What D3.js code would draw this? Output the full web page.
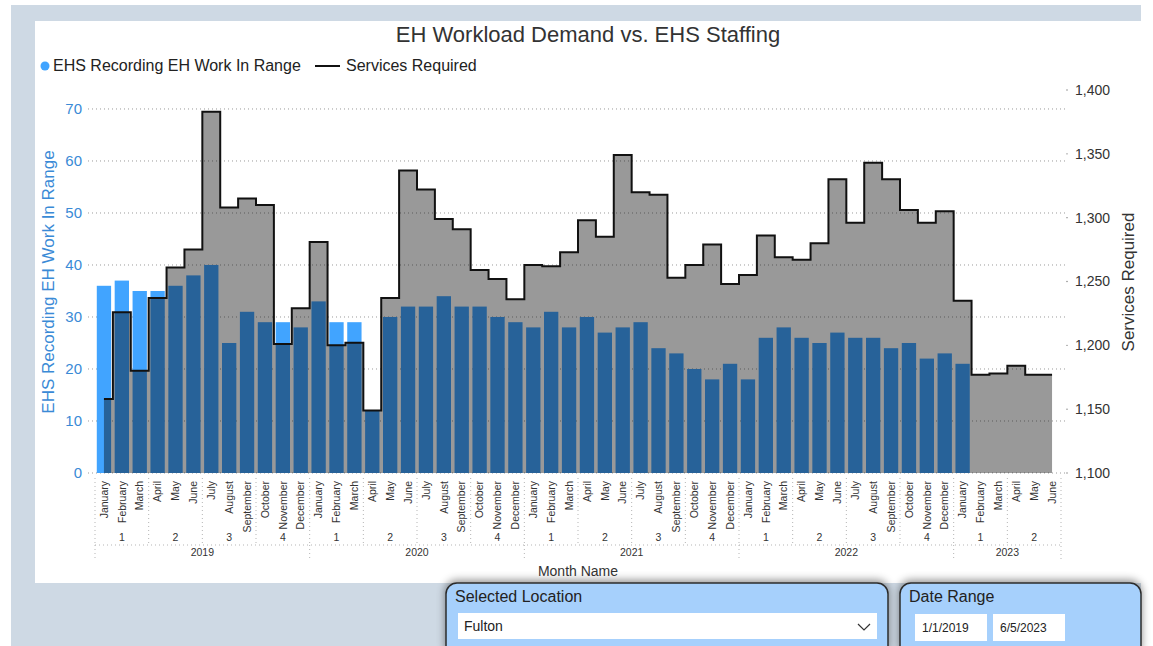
<!DOCTYPE html>
<html lang="en">
	<head>
		<meta charset="utf-8">
		<title>EH Workload Demand vs. EHS Staffing</title>
		<script type="text/javascript" src="https://cdn.jsdelivr.net/npm/d3@7/dist/d3.min.js"></script>
		<style type="text/css">
			body { margin: 0; background: #fff; }
			text { font-family: "Liberation Sans", Arial, sans-serif; }
		</style>
	</head>

	<body>
		<script type="text/javascript">
			/* tick labels for the x axis */
			var monthNames = ["January", "February", "March", "April", "May", "June",
							  "July", "August", "September", "October", "November", "December"];
			var years = [2019, 2020, 2021, 2022, 2023];
			var quarterLabels = ["1", "2", "3", "4"];

			/* EHS recording EH work in range (left axis), Jan 2019 .. Jun 2023 */
			var staffing = [36, 37, 35, 35, 36, 38, 40, 25, 31, 29, 29, 28,
							33, 29, 29, 12, 30, 32, 32, 34, 32, 32, 30, 29,
							28, 31, 28, 30, 27, 28, 29, 24, 23, 20, 18, 21,
							18, 26, 28, 26, 25, 27, 26, 26, 24, 25, 22, 23,
							21, null, null, null, null, null];

			/* services required (right axis) */
			var services = [1158, 1226, 1180, 1237, 1261, 1275, 1383, 1308, 1315, 1310, 1201, 1229,
							1281, 1200, 1202, 1149, 1237, 1337, 1322, 1299, 1291, 1259, 1252, 1236,
							1263, 1262, 1273, 1298, 1285, 1349, 1320, 1318, 1253, 1263, 1279, 1248,
							1255, 1286, 1269, 1267, 1280, 1330, 1296, 1343, 1330, 1306, 1296, 1305,
							1235, 1177, 1178, 1184, 1177, 1177];

			var leftTicks = [0, 10, 20, 30, 40, 50, 60, 70];
			var rightTicks = [1100, 1150, 1200, 1250, 1300, 1350, 1400];

			/* build month categories: Jan 2019 .. Jun 2023 */
			var months = [];
			years.forEach(function(yr) {
				monthNames.forEach(function(m, mi) {
					if (yr < 2023 || mi < 6) {
						months.push({ year: yr, month: m, quarter: Math.floor(mi / 3) + 1, index: months.length });
					}
				});
			});

			var W = 1153, H = 646;
			var plotTop = 90, plotBottom = 473, plotLeft = 95, plotRight = 1061;
			var blue = "#41A4FF", axisBlue = "#3A8AD6", textGray = "#333";

			var svg = d3.select("body")
				.append("svg")
				.attr("width", W)
				.attr("height", H);

			var defs = svg.append("defs");
			var shadow = defs.append("filter").attr("id", "shadow")
				.attr("x", "-10%").attr("y", "-40%").attr("width", "120%").attr("height", "180%");
			shadow.append("feDropShadow")
				.attr("dx", 0).attr("dy", -2).attr("stdDeviation", 4)
				.attr("flood-color", "#000").attr("flood-opacity", 0.45);

			/* page background and card */
			svg.append("rect").attr("x", 11).attr("y", 5).attr("width", 1130).attr("height", H - 5)
				.attr("fill", "#CED9E4");
			svg.append("rect").attr("x", 35).attr("y", 21).attr("width", 1106).attr("height", 562)
				.attr("fill", "#fff");

			/* scales */
			var x = d3.scaleBand()
				.domain(months.map(function(d) { return d.index; }))
				.range([plotLeft, plotRight])
				.paddingInner(0.2)
				.paddingOuter(0.1);
			var step = x.step();
			var yL = d3.scaleLinear().domain([0, 73.65]).range([plotBottom, plotTop]);
			var yR = d3.scaleLinear().domain([1100, 1400]).range([plotBottom, plotTop]);

			/* title */
			svg.append("text")
				.attr("x", 588).attr("y", 42)
				.attr("text-anchor", "middle")
				.attr("font-size", "22px")
				.attr("fill", textGray)
				.text("EH Workload Demand vs. EHS Staffing");

			/* legend */
			svg.append("circle").attr("cx", 45).attr("cy", 66).attr("r", 4.5).attr("fill", blue);
			svg.append("text").attr("x", 53).attr("y", 71).attr("font-size", "16px").attr("fill", "#222")
				.text("EHS Recording EH Work In Range");
			svg.append("line").attr("x1", 315).attr("x2", 340).attr("y1", 66).attr("y2", 66)
				.attr("stroke", "#111").attr("stroke-width", 2);
			svg.append("text").attr("x", 346).attr("y", 71).attr("font-size", "16px").attr("fill", "#222")
				.text("Services Required");

			/* gridlines (left axis) */
			svg.append("g")
				.selectAll("line")
				.data(leftTicks)
				.enter()
				.append("line")
				.attr("x1", 88).attr("x2", 1068)
				.attr("y1", function(d) { return yL(d); })
				.attr("y2", function(d) { return yL(d); })
				.attr("stroke", "#9a9a9a")
				.attr("stroke-width", 1)
				.attr("stroke-dasharray", "1,3");

			/* left axis labels */
			var leftAxis = d3.axisLeft(yL).tickValues(leftTicks).tickSize(0).tickPadding(0);
			var gl = svg.append("g").attr("transform", "translate(82,0)").call(leftAxis);
			gl.select(".domain").remove();
			gl.selectAll("text").attr("font-size", "15px").attr("fill", axisBlue)
				.attr("font-family", "'Liberation Sans', Arial, sans-serif");

			/* right axis labels */
			var rightAxis = d3.axisRight(yR).tickValues(rightTicks).tickSize(0).tickPadding(0)
				.tickFormat(d3.format(","));
			var gr = svg.append("g").attr("transform", "translate(1075,0)").call(rightAxis);
			gr.select(".domain").remove();
			gr.selectAll("text").attr("font-size", "14px").attr("fill", textGray)
				.attr("font-family", "'Liberation Sans', Arial, sans-serif");
			svg.append("g").selectAll("circle").data(rightTicks).enter().append("circle")
				.attr("cx", 1067).attr("cy", function(d) { return yR(d); }).attr("r", 0.7)
				.attr("fill", "#777");

			/* axis titles */
			svg.append("text")
				.attr("transform", "translate(54,282) rotate(-90)")
				.attr("text-anchor", "middle")
				.attr("font-size", "17px")
				.attr("fill", axisBlue)
				.text("EHS Recording EH Work In Range");
			svg.append("text")
				.attr("transform", "translate(1134,282) rotate(-90)")
				.attr("text-anchor", "middle")
				.attr("font-size", "17px")
				.attr("fill", textGray)
				.text("Services Required");

			/* bars */
			svg.append("g")
				.selectAll("rect")
				.data(months.filter(function(d) { return staffing[d.index] != null; }))
				.enter()
				.append("rect")
				.attr("x", function(d) { return x(d.index); })
				.attr("y", function(d) { return yL(staffing[d.index]); })
				.attr("width", x.bandwidth())
				.attr("height", function(d) { return plotBottom - yL(staffing[d.index]); })
				.attr("fill", blue);

			/* stepped area + line for services required */
			var cx = function(d) { return x(d.index) + x.bandwidth() / 2; };
			var area = d3.area()
				.curve(d3.curveStep)
				.x(cx)
				.y0(yR(1100))
				.y1(function(d) { return yR(services[d.index]); });
			svg.append("path")
				.datum(months)
				.attr("d", area)
				.attr("fill", "#000")
				.attr("fill-opacity", 0.4);

			var line = d3.line()
				.curve(d3.curveStep)
				.x(cx)
				.y(function(d) { return yR(services[d.index]); });
			svg.append("path")
				.datum(months)
				.attr("d", line)
				.attr("fill", "none")
				.attr("stroke", "#111")
				.attr("stroke-width", 2);

			/* x axis: month names */
			svg.append("g")
				.selectAll("text")
				.data(months)
				.enter()
				.append("text")
				.attr("transform", function(d) { return "translate(" + cx(d) + ",481) rotate(-90)"; })
				.attr("text-anchor", "end")
				.attr("dy", "0.35em")
				.attr("font-size", "10.5px")
				.attr("fill", textGray)
				.text(function(d) { return d.month; });

			/* quarter and year groups */
			var quarters = d3.groups(months, function(d) { return d.year + "-" + d.quarter; });
			var yearGroups = d3.groups(months, function(d) { return d.year; });
			var dotted = function(sel) {
				return sel.attr("stroke", "#b5b5b5").attr("stroke-width", 1).attr("stroke-dasharray", "1,3");
			};

			svg.append("g").selectAll("line").data(quarters).enter().append("line")
				.attr("x1", function(q) { return x(q[1][0].index) - step * 0.1; })
				.attr("x2", function(q) { return x(q[1][0].index) - step * 0.1; })
				.attr("y1", 478).attr("y2", 545)
				.call(dotted);
			svg.append("g").selectAll("line").data(yearGroups).enter().append("line")
				.attr("x1", function(g) { return x(g[1][0].index) - step * 0.1; })
				.attr("x2", function(g) { return x(g[1][0].index) - step * 0.1; })
				.attr("y1", 545).attr("y2", 561)
				.call(dotted);
			svg.append("line").attr("x1", plotRight).attr("x2", plotRight).attr("y1", 478).attr("y2", 561)
				.call(dotted);
			svg.append("line").attr("x1", plotLeft).attr("x2", plotRight).attr("y1", 545).attr("y2", 545)
				.call(dotted);

			svg.append("g").selectAll("text").data(quarters).enter().append("text")
				.attr("x", function(q) {
					var first = q[1][0], last = q[1][q[1].length - 1];
					return (x(first.index) + x(last.index) + x.bandwidth()) / 2;
				})
				.attr("y", 541)
				.attr("text-anchor", "middle")
				.attr("font-size", "10.5px")
				.attr("fill", textGray)
				.text(function(q) { return quarterLabels[q[1][0].quarter - 1]; });

			svg.append("g").selectAll("text").data(yearGroups).enter().append("text")
				.attr("x", function(g) {
					var first = g[1][0], last = g[1][g[1].length - 1];
					return (x(first.index) + x(last.index) + x.bandwidth()) / 2;
				})
				.attr("y", 556)
				.attr("text-anchor", "middle")
				.attr("font-size", "10.5px")
				.attr("fill", textGray)
				.text(function(g) { return g[0]; });

			svg.append("text")
				.attr("x", 578).attr("y", 576)
				.attr("text-anchor", "middle")
				.attr("font-size", "14px")
				.attr("fill", textGray)
				.text("Month Name");

			/* slicer panels */
			var panels = [
				{ x: 446, y: 583, w: 442, h: 75, title: "Selected Location" },
				{ x: 900, y: 583, w: 241, h: 75, title: "Date Range" }
			];
			svg.append("g").selectAll("rect").data(panels).enter().append("rect")
				.attr("x", function(p) { return p.x; })
				.attr("y", function(p) { return p.y; })
				.attr("width", function(p) { return p.w; })
				.attr("height", function(p) { return p.h; })
				.attr("rx", 11)
				.attr("fill", "#A6D0FC")
				.attr("stroke", "#2b2b2b")
				.attr("stroke-width", 1.5)
				.attr("filter", "url(#shadow)");
			svg.append("g").selectAll("text").data(panels).enter().append("text")
				.attr("x", function(p) { return p.x + 9; })
				.attr("y", function(p) { return p.y + 19; })
				.attr("font-size", "16px")
				.attr("fill", "#222")
				.text(function(p) { return p.title; });

			/* dropdown */
			svg.append("rect").attr("x", 458).attr("y", 613).attr("width", 419).attr("height", 26).attr("fill", "#fff");
			svg.append("text").attr("x", 464).attr("y", 631).attr("font-size", "14px").attr("fill", "#222").text("Fulton");
			svg.append("path").attr("d", "M858,624 L864,630 L870,624").attr("fill", "none")
				.attr("stroke", "#333").attr("stroke-width", 1.2);

			/* date boxes */
			var dateBoxes = [{ x: 915, text: "1/1/2019" }, { x: 993, text: "6/5/2023" }];
			svg.append("g").selectAll("rect").data(dateBoxes).enter().append("rect")
				.attr("x", function(d) { return d.x; }).attr("y", 614)
				.attr("width", 72).attr("height", 27).attr("fill", "#fff");
			svg.append("g").selectAll("text").data(dateBoxes).enter().append("text")
				.attr("x", function(d) { return d.x + 7; }).attr("y", 632)
				.attr("font-size", "12px").attr("fill", "#222")
				.text(function(d) { return d.text; });
		</script>
	</body>
</html>
